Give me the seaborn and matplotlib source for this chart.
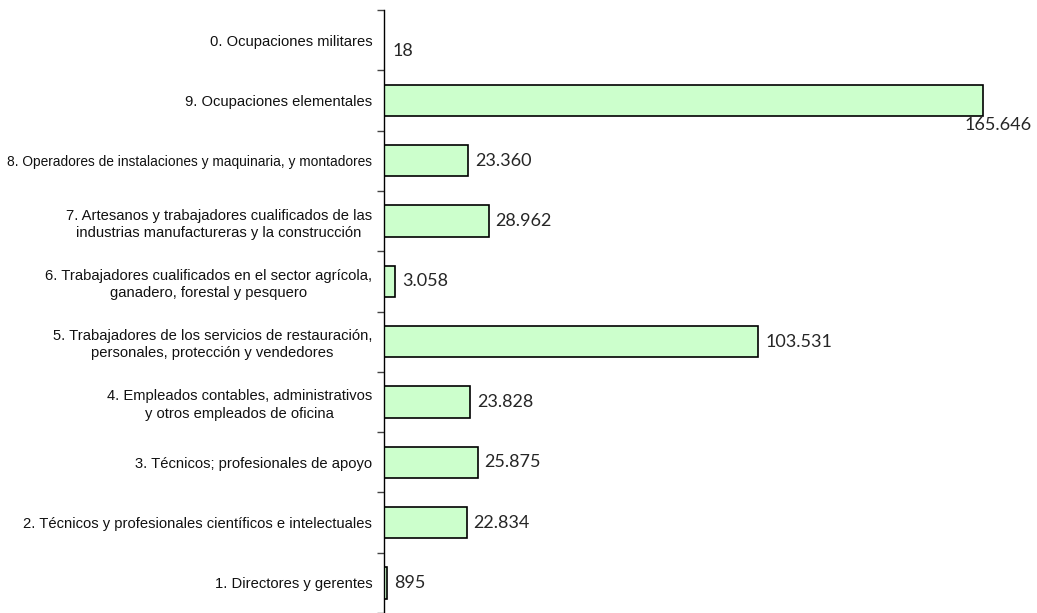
import numpy as np
import pandas as pd
import seaborn as sns
import matplotlib.pyplot as plt

# ocupaciones (de arriba a abajo) y sus valores
ocupaciones = [
    "0. Ocupaciones militares",
    "9. Ocupaciones elementales",
    "8. Operadores de instalaciones y maquinaria, y montadores",
    "7. Artesanos y trabajadores cualificados de las\nindustrias manufactureras y la construcción",
    "6. Trabajadores cualificados en el sector agrícola,\nganadero, forestal y pesquero",
    "5. Trabajadores de los servicios de restauración,\npersonales, protección y vendedores",
    "4. Empleados contables, administrativos\ny otros empleados de oficina",
    "3. Técnicos; profesionales de apoyo",
    "2. Técnicos y profesionales científicos e intelectuales",
    "1. Directores y gerentes",
]
valores = [18, 165646, 23360, 28962, 3058, 103531, 23828, 25875, 22834, 895]
etiquetas = ["18", "165.646", "23.360", "28.962", "3.058", "103.531",
             "23.828", "25.875", "22.834", "895"]

df = pd.DataFrame({"ocupacion": ocupaciones, "valor": valores})

sns.set_style("white")
plt.rcParams['font.family'] = ['Liberation Sans', 'DejaVu Sans']

fig = plt.figure(figsize=(10.37, 6.13), dpi=100)
ax = fig.add_axes([384/1037, 0.0, 650.7/1037, 1 - 10/613])

sns.barplot(data=df, x="valor", y="ocupacion", orient="h", color="#CCFFCC",
            saturation=1, edgecolor="black", linewidth=1.2, width=0.52, ax=ax)

ax.set_xlim(0, 180000)
ax.set_ylim(9.5, -0.5)
ax.set_xlabel("")
ax.set_ylabel("")
ax.set_xticks([])

for s in ["top", "right", "bottom"]:
    ax.spines[s].set_visible(False)
ax.spines["left"].set_color("black")
ax.spines["left"].set_linewidth(1.0)

# ticks entre categorias, etiquetas centradas
ax.set_yticks(np.arange(len(ocupaciones)))
ax.set_yticklabels(ocupaciones, fontsize=10.6, multialignment="center",
                   color="#111111", linespacing=1.3)
# la etiqueta larga algo mas pequena para que quepa
ax.get_yticklabels()[2].set_fontsize(9.9)
ax.set_yticks(np.arange(-0.5, len(ocupaciones), 1.0), minor=True)
ax.tick_params(axis="y", which="major", length=0, pad=8.5)
ax.tick_params(axis="y", which="minor", length=5, width=1, color="#444444", left=True)

for i, (v, t) in enumerate(zip(valores, etiquetas)):
    if v == max(valores):
        ax.annotate(t, xy=(v, i), xytext=(15, -25), textcoords="offset pixels",
                    ha="center", va="center", fontsize=13, family="Lato")
    elif v < 100:
        ax.annotate(t, xy=(v, i), xytext=(8, -11), textcoords="offset pixels",
                    ha="left", va="center", fontsize=13, family="Lato")
    else:
        ax.annotate(t, xy=(v, i), xytext=(7, 0), textcoords="offset pixels",
                    ha="left", va="center", fontsize=13, family="Lato")

fig.savefig("out.png", dpi=100)
